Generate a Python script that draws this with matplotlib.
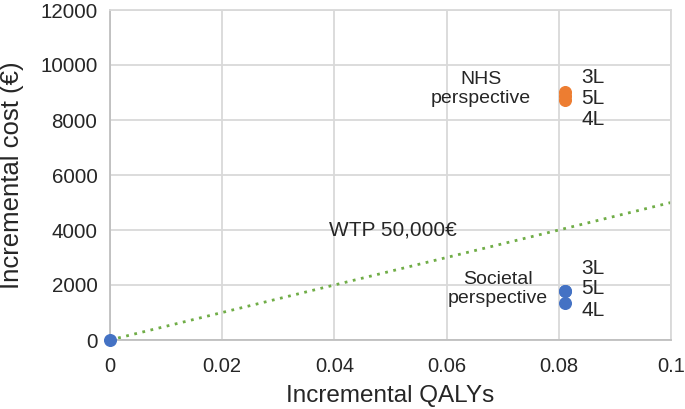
import matplotlib
import matplotlib.pyplot as plt

matplotlib.use('Agg')

plt.rcParams['font.family'] = ['Liberation Sans', 'DejaVu Sans']

# incremental QALYs / costs
nhs_qalys = [0.0811, 0.0811, 0.0811]
nhs_costs = [9020, 8870, 8730]
soc_qalys = [0.0811, 0.0811, 0.0811]
soc_costs = [1800, 1770, 1345]
origin_qalys = [0]
origin_costs = [0]
wtp_x = [0, 0.1]
wtp_y = [0, 5000]

fig = plt.figure(figsize=(6.85, 4.09), dpi=100)
ax = fig.add_axes([110 / 685, 1 - 340 / 409, 561 / 685, 330 / 409])

ax.plot(wtp_x, wtp_y, color='#70AD47', linestyle=(0, (1, 2)), linewidth=2, zorder=2)
ax.scatter(nhs_qalys, nhs_costs, s=70, color='#ED7D31', zorder=3, clip_on=False)
ax.scatter(soc_qalys, soc_costs, s=70, color='#4472C4', zorder=3, clip_on=False)
ax.scatter(origin_qalys, origin_costs, s=70, color='#4472C4', zorder=3, clip_on=False)

ax.set_xlim(0, 0.1)
ax.set_ylim(0, 12000)
ax.set_xticks([0, 0.02, 0.04, 0.06, 0.08, 0.1])
ax.set_xticklabels(['0', '0.02', '0.04', '0.06', '0.08', '0.1'])
ax.set_yticks(range(0, 12001, 2000))
ax.grid(color='#D9D9D9', linewidth=1.3, zorder=0)
ax.set_axisbelow(True)
for side in ['top', 'right']:
    ax.spines[side].set_color('#D9D9D9')
for side in ['left', 'bottom']:
    ax.spines[side].set_color('#BFBFBF')
for s in ax.spines.values():
    s.set_linewidth(1.3)
ax.tick_params(axis='x', length=0, labelsize=14.5, colors='#262626', pad=12)
ax.tick_params(axis='y', length=0, labelsize=14.8, colors='#262626', pad=9)

ax.set_xlabel('Incremental QALYs', fontsize=17.5, color='#262626', labelpad=7)
ax.set_ylabel('Incremental cost (€)', fontsize=18.5, color='#262626')
ax.yaxis.set_label_coords(-0.153, 0.5)

txt = dict(color='#262626')
ax.text(0.039, 4000, 'WTP 50,000€', ha='left', va='center', fontsize=15, **txt)
ax.text(0.0661, 9130, 'NHS\nperspective', ha='center', va='center', fontsize=14,
        linespacing=1.15, **txt)
ax.text(0.0692, 1855, 'Societal\nperspective', ha='center', va='center', fontsize=14,
        linespacing=1.15, **txt)
lbl_x = 0.0840
for y, s in zip([9560, 8800, 8020], ['3L', '5L', '4L']):
    ax.text(lbl_x, y, s, ha='left', va='center', fontsize=15, **txt)
for y, s in zip([2600, 1855, 1090], ['3L', '5L', '4L']):
    ax.text(lbl_x, y, s, ha='left', va='center', fontsize=15, **txt)

plt.savefig('out.png', dpi=100)
plt.close(fig)
